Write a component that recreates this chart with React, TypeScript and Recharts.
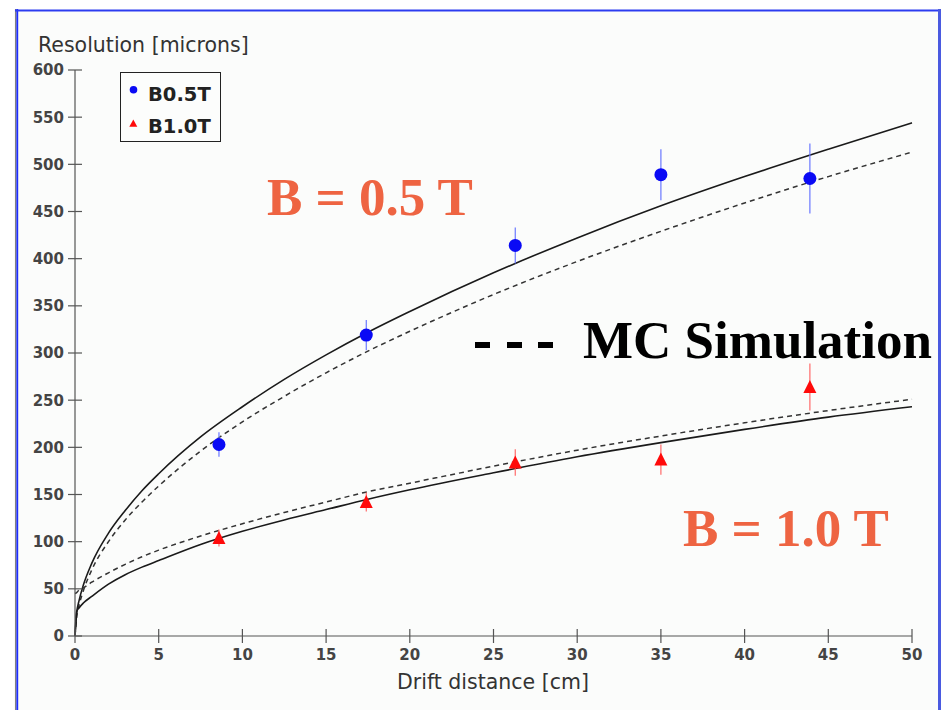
import React from "react";
import { ComposedChart, Line, Scatter, ErrorBar, XAxis, YAxis } from "recharts";

// drift distance grid the fit curves are sampled on
const driftGrid = [0, 0.1, 0.25, 0.5, 1, 2, 3, 4, 5, 7.5, 10, 12.5, 15, 17.5, 20, 25, 30, 35, 40, 45, 50];

// fitted resolution, B = 0.5 T (data fit and MC simulation)
const fit05 = [0, 24, 38, 54, 77, 109, 133, 154, 172, 211, 243, 272, 298, 322, 344, 385, 422, 456, 487, 516, 544];
const mc05 = [0, 20, 33, 48, 70, 100, 123, 142, 159, 196, 227, 254, 279, 302, 323, 362, 397, 429, 459, 487, 513];

// fitted resolution, B = 1.0 T (data fit and MC simulation)
const fit10 = [0, 26, 30, 35, 42, 55, 65, 73, 80, 97, 111, 123, 134, 145, 155, 173, 190, 205, 219, 232, 243];
const mc10 = [45, 46, 49, 51, 57, 67, 76, 84, 91, 106, 119, 131, 142, 153, 162, 180, 197, 212, 226, 239, 251];

// measured points
const measX = [8.6, 17.4, 26.3, 35.0, 43.9];
const res05 = [203, 319, 414, 489, 485];
const err05 = [13, 16, 19, 27, 37];
const res10 = [104, 142, 184, 187, 264];
const err10 = [9, 10, 14, 16, 25];

const xTicks = [0, 5, 10, 15, 20, 25, 30, 35, 40, 45, 50];
const yTicks = [0, 50, 100, 150, 200, 250, 300, 350, 400, 450, 500, 550, 600];

const curves = driftGrid.map((x, i) => ({
  x,
  fit05: fit05[i],
  mc05: mc05[i],
  fit10: fit10[i],
  mc10: mc10[i],
}));
const points05 = measX.map((x, i) => ({ x, y: res05[i], err: err05[i] }));
const points10 = measX.map((x, i) => ({ x, y: res10[i], err: err10[i] }));

const tickFont = { fontFamily: "DejaVu Sans", fontWeight: 700, fontSize: 15, fill: "#444" };
const titleFont = { fontFamily: "DejaVu Sans", fontSize: 20.5, fill: "#333" };
const bigFont = { fontFamily: "Liberation Serif", fontWeight: 700, fontSize: 53 };

function YTick({ x, y, payload }: any) {
  return (
    <g>
      <line x1={x - 7} x2={x + 7} y1={y} y2={y} stroke="#555" strokeWidth={1.2} />
      <text x={x - 11} y={y} dy="0.36em" textAnchor="end" {...tickFont}>
        {payload.value}
      </text>
    </g>
  );
}

function XTick({ x, y, payload }: any) {
  return (
    <g>
      <line x1={x} x2={x} y1={y - 7} y2={y + 7} stroke="#555" strokeWidth={1.2} />
      <text x={x} y={y + 24} textAnchor="middle" {...tickFont}>
        {payload.value}
      </text>
    </g>
  );
}

function Dot({ cx, cy }: any) {
  return <circle cx={cx} cy={cy} r={6.5} fill="#0a0af5" />;
}

function Tri({ cx, cy }: any) {
  return <polygon points={`${cx},${cy - 7} ${cx - 6.5},${cy + 6} ${cx + 6.5},${cy + 6}`} fill="#ff0a0a" />;
}

export default function App() {
  return (
    <div style={{ position: "absolute", left: 0, top: 0, width: 951, height: 710, overflow: "hidden", background: "#fff" }}>
      <div style={{ position: "absolute", left: 18, top: 12, width: 920, height: 700, background: "#fbfcfb" }} />
      <div style={{ position: "absolute", left: 0, top: 0 }}>
        <ComposedChart width={951} height={710} data={curves} margin={{ top: 70, right: 39, bottom: 34, left: 15 }}>
          <XAxis
            dataKey="x"
            type="number"
            domain={[0, 50]}
            ticks={xTicks}
            height={40}
            tickSize={0}
            tickMargin={0}
            tickLine={false}
            axisLine={{ stroke: "#555", strokeWidth: 1.2 }}
            tick={<XTick />}
            interval={0}
          />
          <YAxis
            type="number"
            domain={[0, 600]}
            ticks={yTicks}
            width={60}
            tickSize={0}
            tickMargin={0}
            tickLine={false}
            axisLine={{ stroke: "#555", strokeWidth: 1.2 }}
            tick={<YTick />}
            interval={0}
          />
          <Line dataKey="mc05" type="monotone" stroke="#333" strokeWidth={1.5} strokeDasharray="5 4" dot={false} isAnimationActive={false} />
          <Line dataKey="fit05" type="monotone" stroke="#1a1a1a" strokeWidth={1.6} dot={false} isAnimationActive={false} />
          <Line dataKey="mc10" type="monotone" stroke="#333" strokeWidth={1.5} strokeDasharray="5 4" dot={false} isAnimationActive={false} />
          <Line dataKey="fit10" type="monotone" stroke="#1a1a1a" strokeWidth={1.6} dot={false} isAnimationActive={false} />
          <Scatter data={points05} dataKey="y" shape={<Dot />} isAnimationActive={false}>
            <ErrorBar dataKey="err" direction="y" width={0} stroke="#6a78ff" strokeWidth={1.2} />
          </Scatter>
          <Scatter data={points10} dataKey="y" shape={<Tri />} isAnimationActive={false}>
            <ErrorBar dataKey="err" direction="y" width={0} stroke="#ff6a6a" strokeWidth={1.2} />
          </Scatter>
        </ComposedChart>
      </div>
      <svg width={951} height={710} style={{ position: "absolute", left: 0, top: 0, pointerEvents: "none" }}>
        {/* window frame */}
        <line x1={15.7} x2={15.7} y1={9} y2={710} stroke="#808080" strokeWidth={1.5} />
        <line x1={17.3} x2={17.3} y1={9} y2={710} stroke="#1c2cff" strokeWidth={1.8} />
        <line x1={15} x2={941} y1={10.5} y2={10.5} stroke="#2c3cf0" strokeWidth={2.2} />
        <line x1={939.5} x2={939.5} y1={9} y2={710} stroke="#4a5ae0" strokeWidth={3} />

        <text x={38} y={52} {...titleFont}>Resolution [microns]</text>
        <text x={493} y={689} textAnchor="middle" {...titleFont}>Drift distance [cm]</text>

        {/* legend */}
        <rect x={120.5} y={72.5} width={100} height={69} fill="#fcfdfc" stroke="#222" strokeWidth={1} />
        <circle cx={133.5} cy={89.7} r={3.8} fill="#0a0af5" />
        <text x={148} y={101} fontFamily="DejaVu Sans" fontWeight={700} fontSize={19.5} fill="#222">B0.5T</text>
        <polygon points="133.3,119.5 129.3,126.8 137.3,126.8" fill="#ff0a0a" />
        <text x={148} y={133} fontFamily="DejaVu Sans" fontWeight={700} fontSize={19.5} fill="#222">B1.0T</text>

        {/* annotations */}
        <text x={267} y={215} {...bigFont} fill="#ee6442">B = 0.5 T</text>
        <text x={683} y={546} {...bigFont} fill="#ee6442">B = 1.0 T</text>
        <rect x={475} y={342} width={15} height={6} fill="#000" />
        <rect x={507} y={342} width={15} height={6} fill="#000" />
        <rect x={538} y={342} width={15} height={6} fill="#000" />
        <text x={583} y={358} {...bigFont} fill="#000">MC Simulation</text>
      </svg>
    </div>
  );
}
